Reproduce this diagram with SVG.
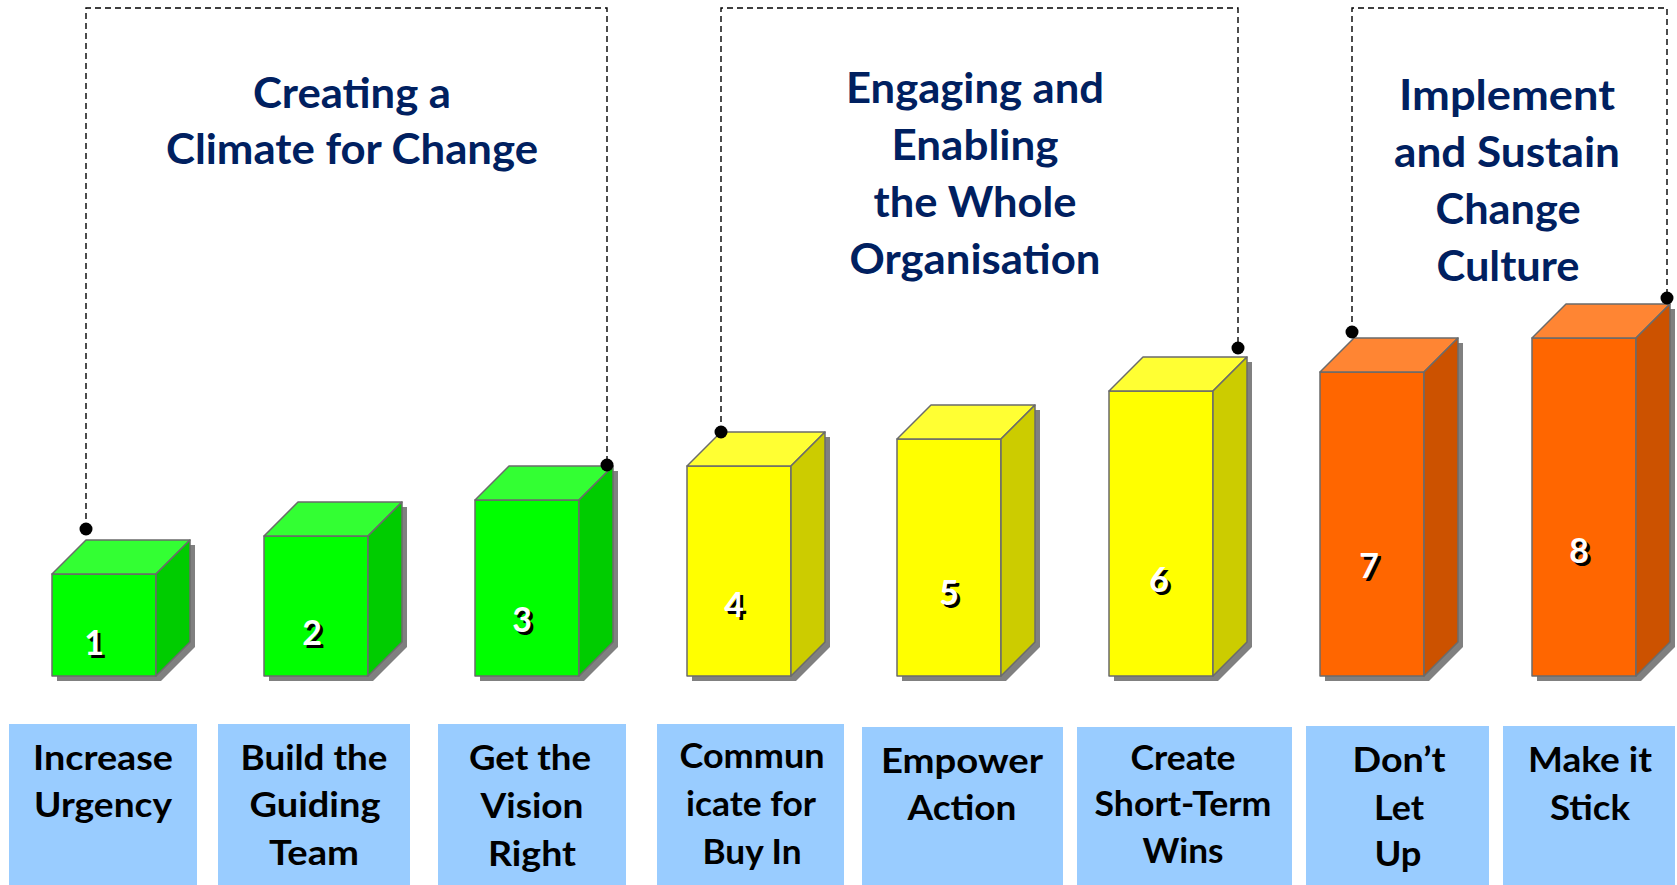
<svg xmlns="http://www.w3.org/2000/svg" width="1677" height="885" viewBox="0 0 1677 885">
<style>
.edge{fill:none;stroke:#000;stroke-width:1.4;stroke-dasharray:6 4}
.dot{fill:#000}
.shadow{fill:#808080}
.face{stroke:#6b6b6b;stroke-width:1.5;stroke-linejoin:round}
.gF{fill:#00FF00}.gT{fill:#33FF33}.gS{fill:#00CC00}
.yF{fill:#FFFF00}.yT{fill:#FFFF33}.yS{fill:#CCCC00}
.oF{fill:#FF6600}.oT{fill:#FF8533}.oS{fill:#CC5200}
.num{font-family:Lato,"Liberation Sans",sans-serif;font-weight:bold;font-size:34px;text-anchor:middle}
.nw{fill:#fff}.ns{fill:#000}
.lbox{fill:#99CCFF}
.lbl{font-family:Lato,"Liberation Sans",sans-serif;font-weight:bold;font-size:34px;fill:#000;text-anchor:middle}
.head{font-family:Lato,"Liberation Sans",sans-serif;font-weight:bold;font-size:42px;fill:#002060;text-anchor:middle}
</style>

<g id="connectors">
<path class="edge" d="M86,529 V8 H607 V465"/>
<path class="edge" d="M721,432 V8 H1238 V348"/>
<path class="edge" d="M1352,332 V8 H1667 V298"/>
</g>

<g id="heading-1">
<text class="head" x="352" y="108" textLength="198" lengthAdjust="spacingAndGlyphs">Creating a</text>
<text class="head" x="352" y="164" textLength="372" lengthAdjust="spacingAndGlyphs">Climate for Change</text>
</g>
<g id="heading-2">
<text class="head" x="975" y="103" textLength="258" lengthAdjust="spacingAndGlyphs">Engaging and</text>
<text class="head" x="975" y="160" textLength="167" lengthAdjust="spacingAndGlyphs">Enabling</text>
<text class="head" x="975" y="217" textLength="203" lengthAdjust="spacingAndGlyphs">the Whole</text>
<text class="head" x="975" y="274" textLength="251" lengthAdjust="spacingAndGlyphs">Organisation</text>
</g>
<g id="heading-3">
<text class="head" x="1507" y="110" textLength="216" lengthAdjust="spacingAndGlyphs">Implement</text>
<text class="head" x="1507" y="167" textLength="226" lengthAdjust="spacingAndGlyphs">and Sustain</text>
<text class="head" x="1508" y="224" textLength="145" lengthAdjust="spacingAndGlyphs">Change</text>
<text class="head" x="1508" y="281" textLength="143" lengthAdjust="spacingAndGlyphs">Culture</text>
</g>

<g id="step-1">
<polygon class="shadow" points="57,681 57,579 91,545 195,545 195,647 161,681"/>
<rect class="face gF" x="52" y="574" width="104" height="102"/>
<polygon class="face gT" points="52,574 86,540 190,540 156,574"/>
<polygon class="face gS" points="156,574 190,540 190,642 156,676"/>
<text class="num ns" x="97" y="658">1</text>
<text class="num nw" x="94" y="655">1</text>
<circle class="dot" cx="86" cy="529" r="6.5"/>
</g>
<g id="step-2">
<polygon class="shadow" points="269,681 269,541 303,507 407,507 407,647 373,681"/>
<rect class="face gF" x="264" y="536" width="104" height="140"/>
<polygon class="face gT" points="264,536 298,502 402,502 368,536"/>
<polygon class="face gS" points="368,536 402,502 402,642 368,676"/>
<text class="num ns" x="315" y="648">2</text>
<text class="num nw" x="312" y="645">2</text>
</g>
<g id="step-3">
<polygon class="shadow" points="480,681 480,505 514,471 618,471 618,647 584,681"/>
<rect class="face gF" x="475" y="500" width="104" height="176"/>
<polygon class="face gT" points="475,500 509,466 613,466 579,500"/>
<polygon class="face gS" points="579,500 613,466 613,642 579,676"/>
<text class="num ns" x="525" y="635">3</text>
<text class="num nw" x="522" y="632">3</text>
<circle class="dot" cx="607" cy="465" r="6.5"/>
</g>
<g id="step-4">
<polygon class="shadow" points="692,681 692,471 726,437 830,437 830,647 796,681"/>
<rect class="face yF" x="687" y="466" width="104" height="210"/>
<polygon class="face yT" points="687,466 721,432 825,432 791,466"/>
<polygon class="face yS" points="791,466 825,432 825,642 791,676"/>
<text class="num ns" x="737" y="620">4</text>
<text class="num nw" x="734" y="617">4</text>
<circle class="dot" cx="721" cy="432" r="6.5"/>
</g>
<g id="step-5">
<polygon class="shadow" points="902,681 902,444 936,410 1040,410 1040,647 1006,681"/>
<rect class="face yF" x="897" y="439" width="104" height="237"/>
<polygon class="face yT" points="897,439 931,405 1035,405 1001,439"/>
<polygon class="face yS" points="1001,439 1035,405 1035,642 1001,676"/>
<text class="num ns" x="952" y="608">5</text>
<text class="num nw" x="949" y="605">5</text>
</g>
<g id="step-6">
<polygon class="shadow" points="1114,681 1114,396 1148,362 1252,362 1252,647 1218,681"/>
<rect class="face yF" x="1109" y="391" width="104" height="285"/>
<polygon class="face yT" points="1109,391 1143,357 1247,357 1213,391"/>
<polygon class="face yS" points="1213,391 1247,357 1247,642 1213,676"/>
<text class="num ns" x="1162" y="595">6</text>
<text class="num nw" x="1159" y="592">6</text>
<circle class="dot" cx="1238" cy="348" r="6.5"/>
</g>
<g id="step-7">
<polygon class="shadow" points="1325,681 1325,377 1359,343 1463,343 1463,647 1429,681"/>
<rect class="face oF" x="1320" y="372" width="104" height="304"/>
<polygon class="face oT" points="1320,372 1354,338 1458,338 1424,372"/>
<polygon class="face oS" points="1424,372 1458,338 1458,642 1424,676"/>
<text class="num ns" x="1372" y="581">7</text>
<text class="num nw" x="1369" y="578">7</text>
<circle class="dot" cx="1352" cy="332" r="6.5"/>
</g>
<g id="step-8">
<polygon class="shadow" points="1537,681 1537,343 1571,309 1675,309 1675,647 1641,681"/>
<rect class="face oF" x="1532" y="338" width="104" height="338"/>
<polygon class="face oT" points="1532,338 1566,304 1670,304 1636,338"/>
<polygon class="face oS" points="1636,338 1670,304 1670,642 1636,676"/>
<text class="num ns" x="1582" y="566">8</text>
<text class="num nw" x="1579" y="563">8</text>
<circle class="dot" cx="1667" cy="298" r="6.5"/>
</g>

<g id="label-1">
<rect class="lbox" x="9" y="724" width="188" height="161"/>
<text class="lbl" x="103" y="770" textLength="140" lengthAdjust="spacingAndGlyphs">Increase</text>
<text class="lbl" x="103" y="817" textLength="138" lengthAdjust="spacingAndGlyphs">Urgency</text>
</g>
<g id="label-2">
<rect class="lbox" x="218" y="724" width="192" height="161"/>
<text class="lbl" x="314" y="770" textLength="147" lengthAdjust="spacingAndGlyphs">Build the</text>
<text class="lbl" x="315" y="817" textLength="131" lengthAdjust="spacingAndGlyphs">Guiding</text>
<text class="lbl" x="314" y="865" textLength="90" lengthAdjust="spacingAndGlyphs">Team</text>
</g>
<g id="label-3">
<rect class="lbox" x="438" y="724" width="188" height="161"/>
<text class="lbl" x="530" y="770" textLength="122" lengthAdjust="spacingAndGlyphs">Get the</text>
<text class="lbl" x="532" y="818" textLength="103" lengthAdjust="spacingAndGlyphs">Vision</text>
<text class="lbl" x="532" y="866" textLength="88" lengthAdjust="spacingAndGlyphs">Right</text>
</g>
<g id="label-4">
<rect class="lbox" x="657" y="724" width="187" height="161"/>
<text class="lbl" x="752" y="768" textLength="145" lengthAdjust="spacingAndGlyphs">Commun</text>
<text class="lbl" x="751" y="816" textLength="130" lengthAdjust="spacingAndGlyphs">icate for</text>
<text class="lbl" x="752" y="864" textLength="99" lengthAdjust="spacingAndGlyphs">Buy In</text>
</g>
<g id="label-5">
<rect class="lbox" x="862" y="727" width="201" height="158"/>
<text class="lbl" x="962" y="773" textLength="162" lengthAdjust="spacingAndGlyphs">Empower</text>
<text class="lbl" x="962" y="820" textLength="109" lengthAdjust="spacingAndGlyphs">Action</text>
</g>
<g id="label-6">
<rect class="lbox" x="1077" y="727" width="215" height="158"/>
<text class="lbl" x="1183" y="770" textLength="105" lengthAdjust="spacingAndGlyphs">Create</text>
<text class="lbl" x="1183" y="816" textLength="177" lengthAdjust="spacingAndGlyphs">Short-Term</text>
<text class="lbl" x="1183" y="863" textLength="81" lengthAdjust="spacingAndGlyphs">Wins</text>
</g>
<g id="label-7">
<rect class="lbox" x="1306" y="726" width="183" height="159"/>
<text class="lbl" x="1399" y="772" textLength="93" lengthAdjust="spacingAndGlyphs">Don’t</text>
<text class="lbl" x="1399" y="820" textLength="50" lengthAdjust="spacingAndGlyphs">Let</text>
<text class="lbl" x="1398" y="866" textLength="47" lengthAdjust="spacingAndGlyphs">Up</text>
</g>
<g id="label-8">
<rect class="lbox" x="1503" y="726" width="172" height="159"/>
<text class="lbl" x="1590" y="772" textLength="124" lengthAdjust="spacingAndGlyphs">Make it</text>
<text class="lbl" x="1590" y="820" textLength="80" lengthAdjust="spacingAndGlyphs">Stick</text>
</g>
</svg>
